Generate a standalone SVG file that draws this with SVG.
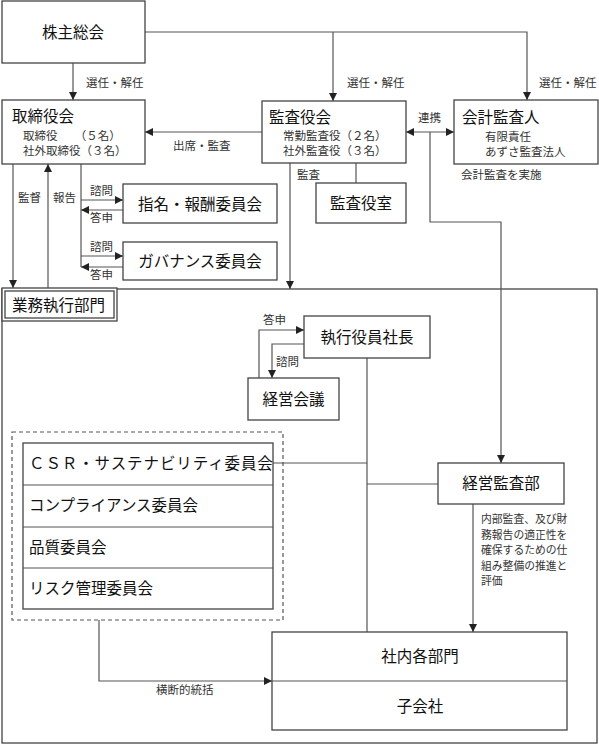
<svg xmlns="http://www.w3.org/2000/svg" width="599" height="745" viewBox="0 0 599 745">
<defs>
<marker id="ah" viewBox="0 0 10 10" refX="10" refY="5" markerWidth="8" markerHeight="8" markerUnits="userSpaceOnUse" orient="auto-start-reverse">
<path d="M0,0 L10,5 L0,10 Z" fill="#222"/>
</marker>
<style>
.box{fill:#fff;stroke:#444;stroke-width:1.3}
.ln{fill:none;stroke:#555;stroke-width:1.2}
.t{font-family:"Noto Sans CJK JP","Noto Sans",sans-serif;fill:#111;font-size:15.5px}
.s{font-family:"Noto Sans CJK JP","Noto Sans",sans-serif;fill:#333;font-size:11.5px}
.d{font-family:"Noto Sans CJK JP","Noto Sans",sans-serif;fill:#333;font-size:10.8px}
.c{text-anchor:middle}
</style>
</defs>
<rect x="0" y="0" width="599" height="745" fill="#fff"/>

<g id="frame">
<rect class="box" x="2" y="289" width="595" height="454" fill="none"/>
</g>

<g id="connectors">
<path class="ln" d="M73,63 V100" marker-end="url(#ah)"/>
<path class="ln" d="M145,32 H527 V100" marker-end="url(#ah)"/>
<path class="ln" d="M333,32 V101" marker-end="url(#ah)"/>
<path class="ln" d="M262,132 H145" marker-end="url(#ah)"/>
<path class="ln" d="M406,132 H454" marker-start="url(#ah)" marker-end="url(#ah)"/>
<path class="ln" d="M430,132 V222 H501 V463" marker-end="url(#ah)"/>
<path class="ln" d="M290,163 V289" marker-end="url(#ah)"/>
<path class="ln" d="M356,163 V183"/>
<path class="ln" d="M13,164 V288" marker-end="url(#ah)"/>
<path class="ln" d="M48,288 V164" marker-end="url(#ah)"/>
<path class="ln" d="M81,164 V267"/>
<path class="ln" d="M81,200 H123" marker-end="url(#ah)"/>
<path class="ln" d="M123,210 H81" marker-end="url(#ah)"/>
<path class="ln" d="M81,256 H123" marker-end="url(#ah)"/>
<path class="ln" d="M123,267 H81" marker-end="url(#ah)"/>
<path class="ln" d="M259,378 V330 H304" marker-end="url(#ah)"/>
<path class="ln" d="M304,344 H272 V378" marker-end="url(#ah)"/>
<path class="ln" d="M367,358 V632"/>
<path class="ln" d="M273,463 H367"/>
<path class="ln" d="M367,484 H438"/>
<path class="ln" d="M473,504 V632" marker-end="url(#ah)"/>
<path class="ln" d="M99,620 V681 H272" marker-end="url(#ah)"/>
</g>

<g id="labels">
<text class="s" x="86" y="87">選任・解任</text>
<text class="s" x="347" y="87">選任・解任</text>
<text class="s" x="539" y="87">選任・解任</text>
<text class="s" x="173" y="150">出席・監査</text>
<text class="s" x="418" y="122">連携</text>
<text class="s" x="297" y="179">監査</text>
<text class="s" x="18" y="202">監督</text>
<text class="s" x="53" y="202">報告</text>
<text class="s" x="90" y="195">諮問</text>
<text class="s" x="90" y="222">答申</text>
<text class="s" x="90" y="251">諮問</text>
<text class="s" x="90" y="279">答申</text>
<text class="s" x="263" y="324">答申</text>
<text class="s" x="276" y="366">諮問</text>
<text class="s" x="461" y="179">会計監査を実施</text>
<text class="s" x="156" y="694">横断的統括</text>
</g>

<g id="kabunushi">
<rect class="box" x="2" y="1" width="143" height="62"/>
<text class="t c" x="73" y="38">株主総会</text>
</g>

<g id="torishimariyakukai">
<rect class="box" x="2" y="100" width="143" height="64"/>
<text class="t" x="12" y="122">取締役会</text>
<text class="s" x="23" y="140">取締役　　（５名）</text>
<text class="s" x="23" y="155">社外取締役（３名）</text>
</g>

<g id="kansayakukai">
<rect class="box" x="262" y="101" width="144" height="62"/>
<text class="t" x="269" y="123">監査役会</text>
<text class="s" x="283" y="140">常勤監査役（２名）</text>
<text class="s" x="283" y="155">社外監査役（３名）</text>
</g>

<g id="kaikeikansanin">
<rect class="box" x="454" y="100" width="144" height="64"/>
<text class="t" x="462" y="123">会計監査人</text>
<text class="s" x="485" y="141">有限責任</text>
<text class="s" x="485" y="156">あずさ監査法人</text>
</g>

<g id="kansayakushitsu">
<rect class="box" x="316" y="183" width="90" height="40"/>
<text class="t c" x="361" y="209">監査役室</text>
</g>

<g id="shimei">
<rect class="box" x="123" y="184" width="154" height="39"/>
<text class="t c" x="200" y="210" font-size="14.5">指名・報酬委員会</text>
</g>

<g id="governance">
<rect class="box" x="123" y="242" width="154" height="38"/>
<text class="t c" x="200" y="267" font-size="14.5">ガバナンス委員会</text>
</g>

<g id="gyomu">
<rect class="box" x="2" y="288" width="115" height="33"/>
<rect class="box" x="5" y="291" width="109" height="27"/>
<text class="t" x="12" y="311">業務執行部門</text>
</g>

<g id="shacho">
<rect class="box" x="304" y="316" width="126" height="42"/>
<text class="t c" x="367" y="343">執行役員社長</text>
</g>

<g id="keieikaigi">
<rect class="box" x="248" y="378" width="91" height="42"/>
<text class="t c" x="293.5" y="405">経営会議</text>
</g>

<g id="committees">
<rect x="12" y="432" width="271" height="188" fill="none" stroke="#555" stroke-width="1.2" stroke-dasharray="4,3"/>
<rect class="box" x="23" y="443" width="250" height="166"/>
<path class="ln" d="M23,485 H273 M23,527 H273 M23,568 H273"/>
<text class="t" x="29" y="469" font-size="14.5" letter-spacing="0.9">ＣＳＲ・サステナビリティ委員会</text>
<text class="t" x="29" y="511">コンプライアンス委員会</text>
<text class="t" x="29" y="553">品質委員会</text>
<text class="t" x="29" y="594">リスク管理委員会</text>
</g>

<g id="keieikansabu">
<rect class="box" x="438" y="463" width="126" height="41"/>
<text class="t c" x="501" y="489">経営監査部</text>
<text class="d" x="481" y="523">内部監査、及び財</text>
<text class="d" x="481" y="538.5">務報告の適正性を</text>
<text class="d" x="481" y="554">確保するための仕</text>
<text class="d" x="481" y="569.5">組み整備の推進と</text>
<text class="d" x="481" y="585">評価</text>
</g>

<g id="shanai">
<rect class="box" x="272" y="632" width="295" height="98"/>
<path class="ln" d="M272,681 H567"/>
<text class="t c" x="420" y="662">社内各部門</text>
<text class="t c" x="420" y="712">子会社</text>
</g>
</svg>
